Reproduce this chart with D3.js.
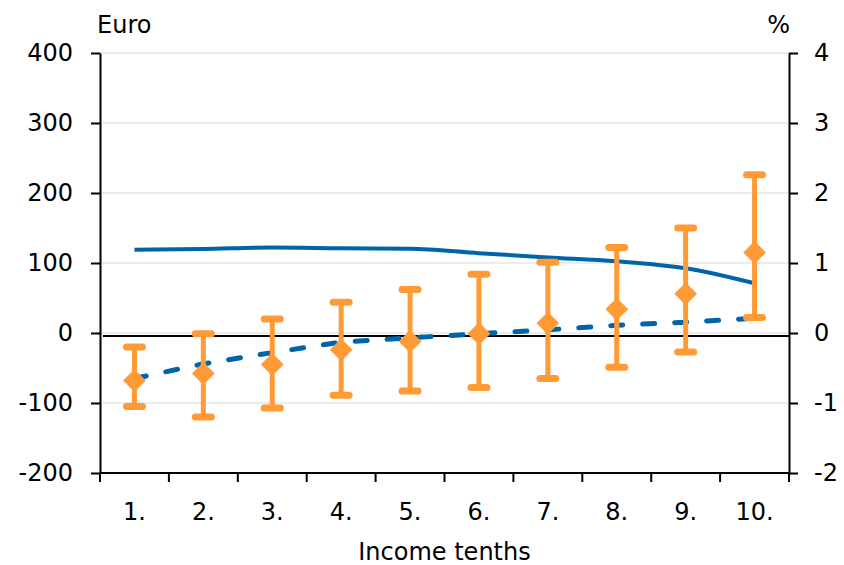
<!DOCTYPE html>
<html>
<head>
<meta charset="utf-8">
<script src="https://cdn.jsdelivr.net/npm/d3@7"></script>
<style>
  body { margin: 0; background: #fff; }
  svg text { font-family: "DejaVu Sans", sans-serif; fill: #000; }
</style>
</head>
<body>
<div id="chart"></div>
<script>
const tenths = ['1.', '2.', '3.', '4.', '5.', '6.', '7.', '8.', '9.', '10.'];
// euro values with confidence interval
const pointEuro = [-68, -58, -45, -24, -12, -1, 14, 34, 56, 115];
const lowEuro = [-105, -120, -107, -89, -83, -78, -65, -49, -27, 22];
const highEuro = [-20, -1, 20, 44, 62, 84, 101, 122, 150, 226];
// percent series (right axis)
const solidPct = [1.19, 1.20, 1.22, 1.21, 1.205, 1.14, 1.08, 1.025, 0.925, 0.71];
const dashedPct = [-0.65, -0.44, -0.28, -0.13, -0.07, -0.01, 0.045, 0.11, 0.155, 0.21];
const leftTicks = [-200, -100, 0, 100, 200, 300, 400];
const rightTicks = [-2, -1, 0, 1, 2, 3, 4];

const width = 844, height = 565;
const margin = { top: 53, right: 55, bottom: 92, left: 100 };

const svg = d3.select('#chart')
  .append('svg')
  .attr('width', width)
  .attr('height', height);

const x = d3.scaleBand()
  .domain(tenths)
  .range([margin.left, width - margin.right]);

const yL = d3.scaleLinear()
  .domain([-200, 400])
  .range([height - margin.bottom, margin.top]);

const yR = d3.scaleLinear()
  .domain([-2, 4])
  .range([height - margin.bottom, margin.top]);

const cx = d => x(d) + x.bandwidth() / 2;

// Gridlines
svg.selectAll('line.grid')
  .data(leftTicks.filter(t => t > -200))
  .enter()
  .append('line')
  .attr('class', 'grid')
  .attr('x1', margin.left)
  .attr('x2', width - margin.right)
  .attr('y1', d => yL(d))
  .attr('y2', d => yL(d))
  .attr('stroke', '#ececec')
  .attr('stroke-width', 2);

// zero line
svg.append('line')
  .attr('x1', margin.left + 3)
  .attr('x2', width - margin.right)
  .attr('y1', yL(0) + 3)
  .attr('y2', yL(0) + 3)
  .attr('stroke', '#000')
  .attr('stroke-width', 2);

// Lines
const lineR = d3.line()
  .x((d, i) => cx(tenths[i]))
  .y(d => yR(d));

svg.append('path')
  .datum(dashedPct)
  .attr('d', lineR)
  .attr('fill', 'none')
  .attr('stroke', '#0064A8')
  .attr('stroke-width', 5)
  .attr('stroke-linecap', 'round')
  .attr('stroke-dasharray', '12 20');

svg.append('path')
  .datum(solidPct)
  .attr('d', lineR.curve(d3.curveMonotoneX))
  .attr('fill', 'none')
  .attr('stroke', '#0064A8')
  .attr('stroke-width', 4);

// Error bars
const orange = '#FF9A35';
const bars = svg.selectAll('g.err')
  .data(tenths)
  .enter()
  .append('g')
  .attr('class', 'err');

bars.append('line')
  .attr('x1', d => cx(d))
  .attr('x2', d => cx(d))
  .attr('y1', (d, i) => yL(lowEuro[i]))
  .attr('y2', (d, i) => yL(highEuro[i]))
  .attr('stroke', orange)
  .attr('stroke-width', 5);

[lowEuro, highEuro].forEach(arr => {
  bars.append('line')
    .attr('x1', d => cx(d) - 8)
    .attr('x2', d => cx(d) + 8)
    .attr('y1', (d, i) => yL(arr[i]))
    .attr('y2', (d, i) => yL(arr[i]))
    .attr('stroke', orange)
    .attr('stroke-width', 7)
    .attr('stroke-linecap', 'round');
});

bars.append('path')
  .attr('d', d3.symbol(d3.symbolDiamond2, 330))
  .attr('transform', (d, i) => `translate(${cx(d)},${yL(pointEuro[i])})`)
  .attr('fill', orange);

// Axes
const fmt = d => String(d);

const axisL = svg.append('g')
  .attr('transform', `translate(${margin.left},0)`)
  .call(d3.axisLeft(yL).tickValues(leftTicks).tickFormat(fmt).tickSize(9).tickSizeOuter(0).tickPadding(18));

const axisR = svg.append('g')
  .attr('transform', `translate(${width - margin.right},0)`)
  .call(d3.axisRight(yR).tickValues(rightTicks).tickFormat(fmt).tickSize(9).tickSizeOuter(0).tickPadding(16));

const axisB = svg.append('g')
  .attr('transform', `translate(0,${height - margin.bottom})`)
  .call(d3.axisBottom(x).tickSize(0).tickPadding(30));

// tick marks between the bands
axisB.selectAll('line.sep')
  .data(tenths.concat(['end']))
  .enter()
  .append('line')
  .attr('class', 'sep')
  .attr('x1', (d, i) => i < tenths.length ? x(d) : x(tenths[i - 1]) + x.bandwidth())
  .attr('x2', (d, i) => i < tenths.length ? x(d) : x(tenths[i - 1]) + x.bandwidth())
  .attr('y1', 0)
  .attr('y2', 9)
  .attr('stroke', '#000')
  .attr('stroke-width', 2);

[axisL, axisR, axisB].forEach(a => {
  a.select('.domain').attr('stroke', '#000').attr('stroke-width', 2);
  a.selectAll('.tick line').attr('stroke', '#000').attr('stroke-width', 2);
  a.selectAll('text').style('font-size', '24px').attr('font-family', null);
});
axisB.select('.domain').attr('d', `M${margin.left},0H${width - margin.right}`);

// Titles
svg.append('text')
  .attr('x', 97)
  .attr('y', 33)
  .style('font-size', '24px')
  .text('Euro');

svg.append('text')
  .attr('x', 790)
  .attr('y', 33)
  .attr('text-anchor', 'end')
  .style('font-size', '24px')
  .text('%');

svg.append('text')
  .attr('x', (margin.left + width - margin.right) / 2)
  .attr('y', 560)
  .attr('text-anchor', 'middle')
  .style('font-size', '24px')
  .text('Income tenths');
</script>
</body>
</html>
